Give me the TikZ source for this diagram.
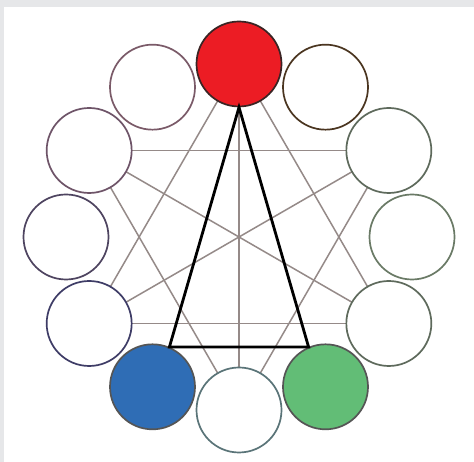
\documentclass[tikz,border=0pt]{standalone}
\usetikzlibrary{calc}
\begin{document}
\begin{tikzpicture}[x=1pt,y=1pt,
  ring/.style={circle,draw,line width=1.7pt,minimum size=85pt,inner sep=0pt,fill=white},
  link/.style={draw=linegray,line width=1.5pt},
  tri/.style={draw=black,line width=2.8pt,line join=miter}]
\definecolor{bggray}{HTML}{E6E7E9}
\definecolor{linegray}{HTML}{958A88}
\definecolor{wheelred}{HTML}{EC1C24}
\definecolor{wheelblue}{HTML}{2F6DB5}
\definecolor{wheelgreen}{HTML}{62BD76}
\definecolor{edgered}{HTML}{3A2424}
\definecolor{edgebrown}{HTML}{4A3520}
\definecolor{edgegreen}{HTML}{5E6A5C}
\definecolor{edgegreenb}{HTML}{6A7A66}
\definecolor{edgegray}{HTML}{555555}
\definecolor{edgeteal}{HTML}{5A7478}
\definecolor{edgenavy}{HTML}{3E3C66}
\definecolor{edgeplum}{HTML}{4E4460}
\definecolor{edgemauve}{HTML}{6E5468}
\definecolor{edgerose}{HTML}{7A5A68}
\useasboundingbox (0,0) rectangle (474,462);
\fill[bggray] (0,0) rectangle (474,462);
\fill[white] (4,0) rectangle (474,455);
\coordinate (ctr) at (239,225);
% node positions
\foreach \k in {0,...,11}{
  \coordinate (p\k) at ($(ctr)+({90-30*\k}:173)$);
}
% gray links (behind circles)
\draw[link] (p0) -- (p6);
\draw[link] (p0) -- (p4);
\draw[link] (p0) -- (p8);
\draw[link] (p2) -- (p10);
\draw[link] (p4) -- (p8);
\draw[link] (p10) -- (p4);
\draw[link] (p2) -- (p8);
\draw[link] (p10) -- (p6);
\draw[link] (p2) -- (p6);
% circles
\node[ring,fill=wheelred,draw=edgered] (c0) at (p0) {};
\node[ring,draw=edgebrown] (c1) at (p1) {};
\node[ring,draw=edgegreen] (c2) at (p2) {};
\node[ring,draw=edgegreenb] (c3) at (p3) {};
\node[ring,draw=edgegreen] (c4) at (p4) {};
\node[ring,fill=wheelgreen,draw=edgegray] (c5) at (p5) {};
\node[ring,draw=edgeteal] (c6) at (p6) {};
\node[ring,fill=wheelblue,draw=edgegray] (c7) at (p7) {};
\node[ring,draw=edgenavy] (c8) at (p8) {};
\node[ring,draw=edgeplum] (c9) at (p9) {};
\node[ring,draw=edgemauve] (c10) at (p10) {};
\node[ring,draw=edgerose] (c11) at (p11) {};
% black triangle
\draw[tri] (c0.south) -- (c7.67) -- (c5.113) -- cycle;
\end{tikzpicture}
\end{document}
